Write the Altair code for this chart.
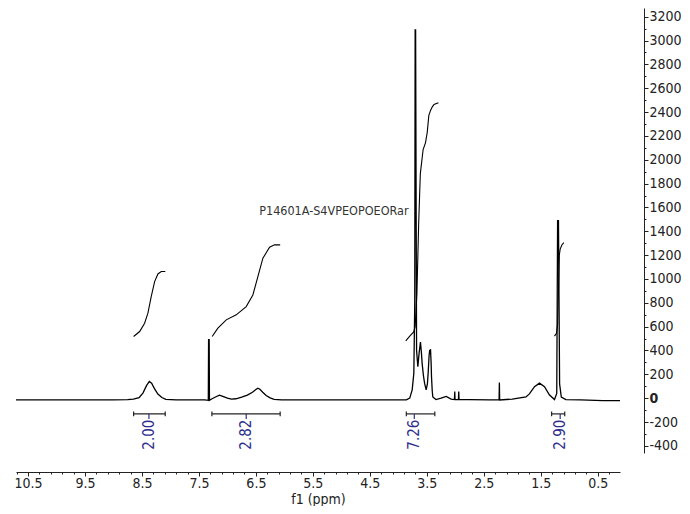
import altair as alt
import pandas as pd

# ---------------- data ----------------
spec_ppm = [10.71, 10.2, 9.6, 9.0, 8.75, 8.65, 8.55, 8.48, 8.42, 8.37, 8.33, 8.28, 8.22, 8.15, 8.08,
            7.9, 7.6, 7.40, 7.335, 7.33, 7.32, 7.315, 7.27, 7.20, 7.14, 7.08, 7.00, 6.93, 6.85, 6.75,
            6.65, 6.56, 6.50, 6.465, 6.43, 6.38, 6.32, 6.25, 6.18, 6.05, 5.5, 4.5, 3.95, 3.86, 3.80,
            3.757, 3.728, 3.712, 3.705, 3.697, 3.68, 3.658, 3.635, 3.612, 3.595, 3.582, 3.56, 3.54,
            3.512, 3.49, 3.477, 3.46, 3.45, 3.435, 3.425, 3.418, 3.405, 3.395, 3.34, 3.25, 3.16, 3.074,
            3.015, 3.010, 3.005, 2.945, 2.940, 2.935, 2.75, 2.4, 2.232, 2.227, 2.222, 2.0, 1.76, 1.70,
            1.61, 1.523, 1.435, 1.35, 1.26, 1.22, 1.205, 1.19, 1.17, 1.14, 1.06, 0.8, 0.41, 0.11]
spec_int = [-15, -15, -15, -15, -12, -8, 5, 45, 105, 140, 125, 80, 35, 5, -10,
            -15, -15, -15, -18, 490, 490, -18, -5, 12, 25, 15, 0, -8, -5, 8,
            25, 50, 72, 84, 75, 50, 22, 2, -10, -15, -15, -15, -15, -14, 0,
            70, 210, 800, 3090, 3090, 400, 265, 380, 470, 380, 290, 190, 126,
            70, 120, 210, 360, 400, 405, 300, 180, 60, 10, -12, 0, 15, -8,
            -12, 55, -12, -10, 55, -10, -12, -15, -15, 131, -15, -8, 10, 36,
            97, 126, 97, 28, -12, 40, 1489, 1489, 120, 10, -12, -15, -20, -20]

int1_ppm = [8.646, 8.54, 8.453, 8.395, 8.337, 8.277, 8.22, 8.161, 8.09]
int1_val = [517, 559, 629, 713, 852, 978, 1042, 1062, 1062]
int2_ppm = [7.267, 7.167, 7.02, 6.845, 6.67, 6.553, 6.465, 6.377, 6.26, 6.172, 6.074]
int2_val = [517, 587, 657, 699, 768, 866, 1020, 1174, 1266, 1286, 1286]
int3_ppm = [3.87, 3.80, 3.73, 3.705, 3.674, 3.644, 3.614, 3.565, 3.523, 3.493, 3.465, 3.433,
            3.404, 3.374, 3.296]
int3_val = [480, 520, 555, 600, 880, 1452, 1884, 2086, 2144, 2230, 2372, 2416, 2444, 2464, 2478]
int4_ppm = [1.26, 1.225, 1.205, 1.19, 1.175, 1.16, 1.13, 1.096]
int4_val = [520, 545, 620, 900, 1200, 1250, 1285, 1305]

br_start = [8.646, 7.272, 3.86, 1.31]
br_end = [8.091, 6.074, 3.36, 1.08]
br_center = [8.377, 6.67, 3.72, 1.16]
br_label = ["2.00", "2.82", "7.26", "2.90"]

sample_name = "P14601A-S4VPEOPOEORar"
sample_ppm = 3.82
sample_val = 1571

x_labels = [10.5, 9.5, 8.5, 7.5, 6.5, 5.5, 4.5, 3.5, 2.5, 1.5, 0.5]
y_labels = [-400, -200, 0, 200, 400, 600, 800, 1000, 1200, 1400, 1600, 1800, 2000, 2200,
            2400, 2600, 2800, 3000, 3200]

# ---------------- tables ----------------
spec = pd.DataFrame({"ppm": spec_ppm, "val": spec_int, "i": range(len(spec_ppm))})
rows = []
for k, (pp, vv) in enumerate([(int1_ppm, int1_val), (int2_ppm, int2_val),
                              (int3_ppm, int3_val), (int4_ppm, int4_val)]):
    for j, (p, v) in enumerate(zip(pp, vv)):
        rows.append({"ppm": p, "val": v, "curve": k, "i": j})
integ = pd.DataFrame(rows)
br = pd.DataFrame({"a": br_start, "b": br_end, "c": br_center, "lab": br_label})
br["y"] = -132
br["cap1"] = -112
br["cap2"] = -152
br["tick2"] = -175
br["ty"] = -180
ann = pd.DataFrame({"ppm": [sample_ppm], "val": [sample_val], "t": [sample_name]})

FONT = "Liberation Sans Narrow, DejaVu Sans Condensed, sans-serif"
NAVY = "#2e2e8c"

# tick positions: labelled ones plus minor ones in between
x_ticks = sorted({round(v - 0.2 * k, 1) for v in x_labels for k in range(5)} | {10.7}, reverse=True)
x_ticks = [t for t in x_ticks if 0.11 <= t <= 10.71]
y_ticks = sorted({v + 100 for v in y_labels[:-1]} | set(y_labels))

X_MAJOR = "abs(round(datum.value * 10) % 10) == 5"
Y_MAJOR = "datum.value % 200 == 0"

xaxis = alt.Axis(
    orient="bottom", offset=19, values=x_ticks, tickCount=500, grid=False,
    labelExpr=X_MAJOR + " ? format(datum.value, '.1f') : ''",
    labelOverlap=False, labelFlush=False, labelFont=FONT, labelFontSize=14,
    labelColor="#222", labelPadding=0,
    tickSize={"condition": {"test": X_MAJOR, "value": 4}, "value": 2},
    tickColor="#222", domainColor="#222", title="f1 (ppm)", titleFont=FONT,
    titleFontSize=14, titleFontWeight="normal", titleColor="#222", titlePadding=2,
)
yaxis = alt.Axis(
    orient="right", offset=24, values=y_ticks, tickCount=500, grid=False,
    labelExpr=Y_MAJOR + " ? toString(datum.value) : ''",
    labelOverlap=False, labelFlush=False, labelFont=FONT, labelFontSize=14,
    labelFontWeight={"condition": {"test": "datum.value == 0", "value": "bold"}, "value": "normal"},
    labelColor="#222", labelPadding=1, labelBaseline="middle",
    tickSize={"condition": {"test": Y_MAJOR, "value": 4}, "value": 2},
    tickColor="#222", domainColor="#222", title=None,
)

xscale = alt.Scale(domain=[0.11, 10.71], reverse=True, nice=False, zero=False)
yscale = alt.Scale(domain=[-460, 3273], nice=False, zero=False)

spectrum = alt.Chart(spec).mark_line(color="black", strokeWidth=1.3).encode(
    x=alt.X("ppm:Q", scale=xscale, axis=xaxis),
    y=alt.Y("val:Q", scale=yscale, axis=yaxis),
    order="i:Q",
)
integrals = alt.Chart(integ).mark_line(color="black", strokeWidth=1.1).encode(
    x=alt.X("ppm:Q"),
    y=alt.Y("val:Q"),
    detail="curve:N",
    order="i:Q",
)
bar = alt.Chart(br).mark_rule(color="#222", strokeWidth=1.2).encode(
    x=alt.X("a:Q"), x2="b:Q", y=alt.Y("y:Q"),
)
cap_a = alt.Chart(br).mark_rule(color="#222", strokeWidth=1.2).encode(
    x=alt.X("a:Q"), y=alt.Y("cap1:Q"), y2="cap2:Q",
)
cap_b = alt.Chart(br).mark_rule(color="#222", strokeWidth=1.2).encode(
    x=alt.X("b:Q"), y=alt.Y("cap1:Q"), y2="cap2:Q",
)
ctick = alt.Chart(br).mark_rule(color=NAVY, strokeWidth=1.2).encode(
    x=alt.X("c:Q"), y=alt.Y("y:Q"), y2="tick2:Q",
)
labels = alt.Chart(br).mark_text(
    angle=270, align="right", baseline="middle", font=FONT, fontSize=15, color=NAVY
).encode(
    x=alt.X("c:Q"), y=alt.Y("ty:Q"), text="lab:N",
)
name = alt.Chart(ann).mark_text(
    align="right", baseline="middle", font=FONT, fontSize=12.5, color="#333"
).encode(
    x=alt.X("ppm:Q"), y=alt.Y("val:Q"), text="t:N",
)

chart = alt.layer(spectrum, integrals, bar, cap_a, cap_b, ctick, labels, name).properties(
    width=604, height=445,
    padding={"left": 5, "top": 0, "right": 0, "bottom": 0},
    background="white",
).configure_view(stroke=None).configure_axis(
    labelOverlap=False, labelFlush=False, grid=False
)

chart.save("out.html", embed_options={"renderer": "svg", "actions": False})
